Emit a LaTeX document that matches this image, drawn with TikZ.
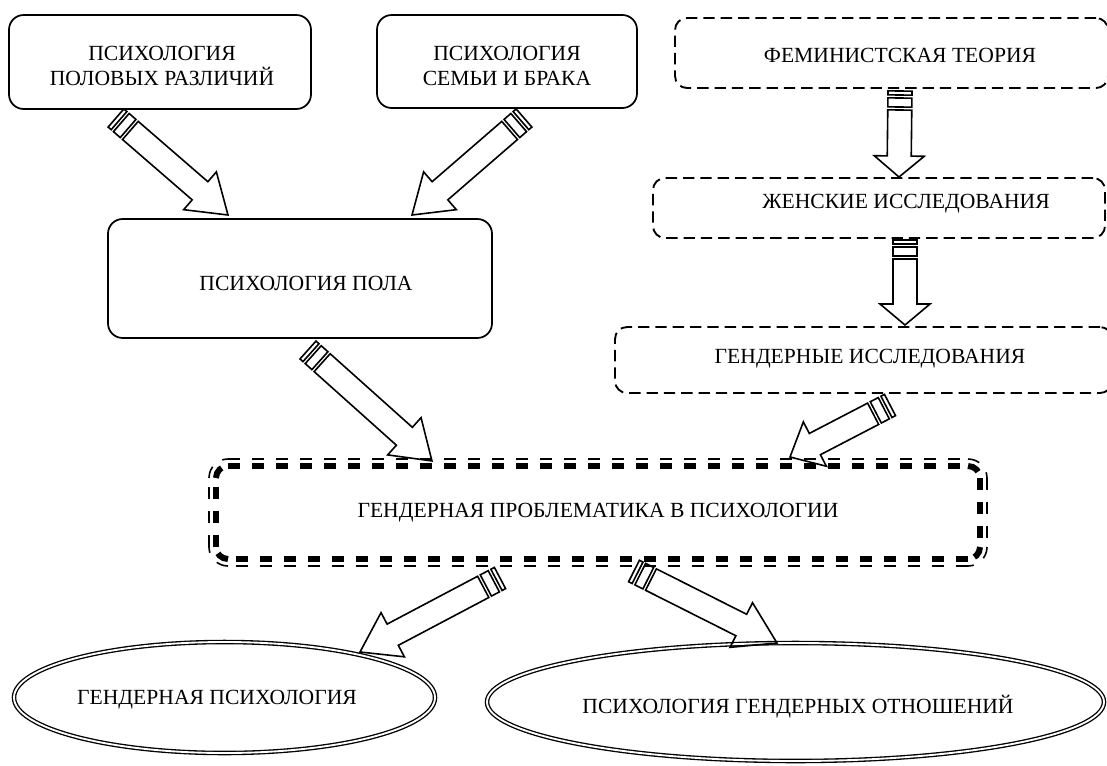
\documentclass[tikz,border=0pt]{standalone}
\usepackage{fontspec}
\setmainfont{Liberation Serif}
\usetikzlibrary{calc,shapes.geometric}
\newcommand{\sarr}[3]{%
  \path let \p1=($(#2)-(#1)$) in \pgfextra{%
    \pgfmathsetmacro{\SAang}{atan2(\y1,\x1)}%
    \pgfmathsetmacro{\SAlen}{veclen(\x1,\y1)/0.75}%
    \xdef\SAang{\SAang}\xdef\SAlen{\SAlen}};
  \begin{scope}[shift={(#1)}, rotate=\SAang, x=0.75pt, y=0.75pt]
    \draw[sarrow] (0,-12) rectangle (4,12);
    \draw[sarrow] (7,-12) rectangle (16,12);
    \draw[sarrow] (19,-12) -- ({\SAlen-#3},-12) -- ({\SAlen-#3},-25) -- (\SAlen,0)
      -- ({\SAlen-#3},25) -- ({\SAlen-#3},12) -- (19,12) -- cycle;
  \end{scope}}
\begin{document}
\begin{tikzpicture}[x=0.75pt,y=-0.75pt,
  sbox/.style={draw, line width=1.3pt, rounded corners=11pt, inner sep=0pt},
  dbox/.style={draw, line width=1.4pt, dash pattern=on 8.5pt off 4.5pt, rounded corners=9pt, inner sep=0pt},
  txt/.style={font=\fontsize{16.2}{18.75}\selectfont, align=center, inner sep=0pt},
  ell/.style={ellipse, draw, double, line width=1pt, double distance=1.4pt, inner sep=0pt},
  sarrow/.style={line width=1.2pt, line join=miter},
  thickd/.style={line width=4.5pt, dash pattern=on 9pt off 9pt},
  thind/.style={line width=1.2pt, dash pattern=on 9pt off 9pt}]
\useasboundingbox (0,0) rectangle (1107,765);
\clip (0,0) rectangle (1107,765);

% boxes
\node[sbox, minimum width=302*0.75pt, minimum height=94*0.75pt] (b1) at (160,62) {};
\node[txt] (t1) at (162,65.5) {ПСИХОЛОГИЯ\\ПОЛОВЫХ РАЗЛИЧИЙ};
\node[sbox, minimum width=260*0.75pt, minimum height=93*0.75pt] (b2) at (507,61.5) {};
\node[txt] (t2) at (507,65.5) {ПСИХОЛОГИЯ\\СЕМЬИ И БРАКА};
\node[sbox, minimum width=384*0.75pt, minimum height=119*0.75pt] (b3) at (300,278.5) {};
\node[txt] (t3) at (306,283) {ПСИХОЛОГИЯ ПОЛА};

\node[dbox, minimum width=433*0.75pt, minimum height=70*0.75pt] (f1) at (891.5,53) {};
\node[txt] (tf1) at (900,55) {ФЕМИНИСТСКАЯ ТЕОРИЯ};
\node[dbox, minimum width=452*0.75pt, minimum height=60*0.75pt] (f2) at (879,208) {};
\node[txt] (tf2) at (906,204) {ЖЕНСКИЕ ИССЛЕДОВАНИЯ};
\node[dbox, minimum width=497*0.75pt, minimum height=66*0.75pt] (f3) at (863.5,360) {};
\node[txt] (tf3) at (870,359) {ГЕНДЕРНЫЕ ИССЛЕДОВАНИЯ};

% big double dashed box
\node[minimum width=778*0.75pt, minimum height=107*0.75pt, inner sep=0pt] (g) at (598,512.5) {};
\node[txt] (tg) at (598,513) {ГЕНДЕРНАЯ ПРОБЛЕМАТИКА В ПСИХОЛОГИИ};
\draw[thickd] (228,466) -- (968,466);
\draw[thind] (228,459) -- (968,459);
\draw[thickd] (980,478) -- (980,547);
\draw[thind] (987,478) -- (987,547);
\draw[thickd] (968,559) -- (228,559);
\draw[thind] (968,566) -- (228,566);
\draw[thickd] (216,547) -- (216,478);
\draw[thind] (209,547) -- (209,478);
\draw[thickd] (216,478) arc[start angle=180, end angle=90, radius=9pt];
\draw[thind] (209,478) arc[start angle=180, end angle=90, radius=14.25pt];
\draw[thickd] (968,466) arc[start angle=90, end angle=0, radius=9pt];
\draw[thind] (968,459) arc[start angle=90, end angle=0, radius=14.25pt];
\draw[thickd] (980,547) arc[start angle=0, end angle=-90, radius=9pt];
\draw[thind] (987,547) arc[start angle=0, end angle=-90, radius=14.25pt];
\draw[thickd] (228,559) arc[start angle=-90, end angle=-180, radius=9pt];
\draw[thind] (228,566) arc[start angle=-90, end angle=-180, radius=14.25pt];

% ellipses
\node[ell, minimum width=421*0.75pt, minimum height=111*0.75pt] (e1) at (224.5,697.5) {};
\node[txt] (te1) at (217,700) {ГЕНДЕРНАЯ ПСИХОЛОГИЯ};
\node[ell, minimum width=617*0.75pt, minimum height=118*0.75pt] (e2) at (795.5,702) {};
\node[txt] (te2) at (798,707) {ПСИХОЛОГИЯ ГЕНДЕРНЫХ ОТНОШЕНИЙ};

% arrow end points
\coordinate (a1s) at (116,118); \coordinate (a1e) at (228,215);
\coordinate (a2s) at (524,118); \coordinate (a2e) at (412,215);
\coordinate (a3s) at (900,91);  \coordinate (a3e) at (899,177);
\coordinate (a4s) at (905,240); \coordinate (a4e) at (905,325);
\coordinate (a5s) at (308,350); \coordinate (a5e) at (432,461);
\coordinate (a6s) at (890,405); \coordinate (a6e) at (790,457);
\coordinate (a7s) at (500,578); \coordinate (a7e) at (360,652);
\coordinate (a8s) at (634,571); \coordinate (a8e) at (777,643);

\sarr{a1s}{a1e}{37}
\sarr{a2s}{a2e}{37}
\sarr{a3s}{a3e}{21}
\sarr{a4s}{a4e}{21}
\sarr{a5s}{a5e}{37}
\sarr{a6s}{a6e}{28}
\sarr{a7s}{a7e}{37}
\sarr{a8s}{a8e}{40}
\end{tikzpicture}
\end{document}
